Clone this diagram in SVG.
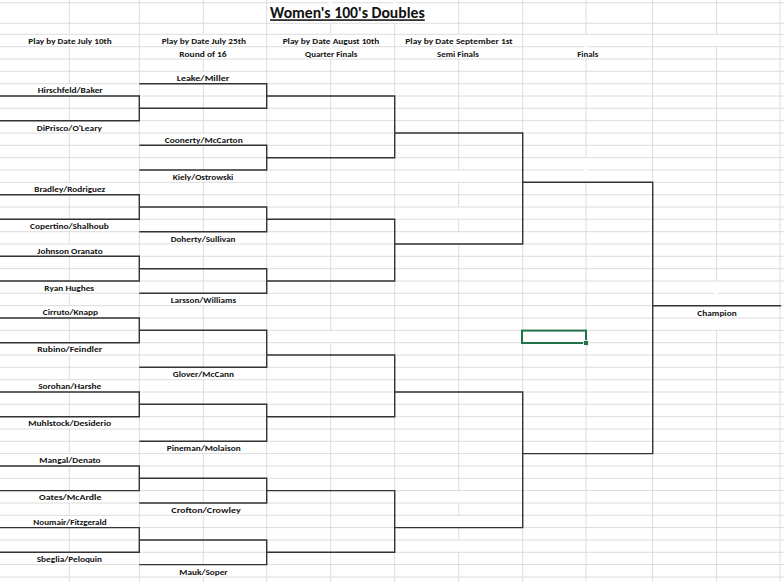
<svg xmlns="http://www.w3.org/2000/svg" width="784" height="582" viewBox="0 0 784 582">
<style>
.bg{fill:#ffffff}
.g{stroke:#dcdcdc;stroke-width:1;fill:none}
.gap{fill:#ffffff}
.b{stroke:#333333;stroke-width:1.4;fill:none}
.t{font-family:Carlito,Lato,"Liberation Sans",sans-serif;font-weight:bold;font-size:8.6px;fill:#111111;text-anchor:middle}
.title{font-family:Carlito,Lato,"Liberation Sans",sans-serif;font-weight:bold;font-size:15.5px;fill:#111111;text-anchor:middle;text-decoration:underline}
.sel{fill:none;stroke:#217346;stroke-width:2}
.hdl{fill:#217346;stroke:#ffffff;stroke-width:0.8}
</style>
<rect class="bg" x="0" y="0" width="784" height="582"/>
<g id="grid">
<path class="g" d="M0 2.7H784M0 23.3H784M0 34.3H784M0 46.7H784M0 59H784M0 71.3H784M0 83.7H784M0 96H784M0 108.3H784M0 120.7H784M0 133H784M0 145.3H784M0 157.7H784M0 170H784M0 182.3H784M0 194.7H784M0 207H784M0 219.3H784M0 231.7H784M0 244H784M0 256.3H784M0 268.7H784M0 281H784M0 293.3H784M0 305.7H784M0 318H784M0 330.3H784M0 342.7H784M0 355H784M0 367.3H784M0 379.7H784M0 392H784M0 404.3H784M0 416.7H784M0 429H784M0 441.3H784M0 453.6H784M0 466H784M0 478.3H784M0 490.6H784M0 503H784M0 515.3H784M0 527.6H784M0 540H784M0 552.3H784M0 564.6H784M0 577H784"/>
<path class="g" d="M69.3 0V582M139.3 0V582M203.3 0V582M266.7 0V582M330.7 0V582M394.7 0V582M458.7 0V582M522.7 0V582M586 0V582M652.7 0V582M716.7 0V582M780 0V582"/>
<g id="gaps">
<rect class="gap" x="67.8" y="35" width="3" height="11"/>
<rect class="gap" x="67.8" y="84.3" width="3" height="11"/>
<rect class="gap" x="67.8" y="121.3" width="3" height="11"/>
<rect class="gap" x="67.8" y="183" width="3" height="11"/>
<rect class="gap" x="67.8" y="220" width="3" height="11"/>
<rect class="gap" x="67.8" y="244.7" width="3" height="11"/>
<rect class="gap" x="67.8" y="281.7" width="3" height="11"/>
<rect class="gap" x="67.8" y="306.3" width="3" height="11"/>
<rect class="gap" x="67.8" y="343.3" width="3" height="11"/>
<rect class="gap" x="67.8" y="380.3" width="3" height="11"/>
<rect class="gap" x="67.8" y="417.3" width="3" height="11"/>
<rect class="gap" x="67.8" y="454.3" width="3" height="11"/>
<rect class="gap" x="67.8" y="491.3" width="3" height="11"/>
<rect class="gap" x="67.8" y="516" width="3" height="11"/>
<rect class="gap" x="67.8" y="553" width="3" height="11"/>
<rect class="gap" x="201.8" y="35" width="3" height="23.4"/>
<rect class="gap" x="201.8" y="72" width="3" height="11"/>
<rect class="gap" x="201.8" y="134" width="3" height="11"/>
<rect class="gap" x="201.8" y="170.6" width="3" height="11"/>
<rect class="gap" x="201.8" y="232.3" width="3" height="11"/>
<rect class="gap" x="201.8" y="294" width="3" height="11"/>
<rect class="gap" x="201.8" y="368" width="3" height="11"/>
<rect class="gap" x="201.8" y="442" width="3" height="11"/>
<rect class="gap" x="201.8" y="503.6" width="3" height="11"/>
<rect class="gap" x="201.8" y="565.3" width="3" height="11"/>
<rect class="gap" x="329.2" y="0" width="3" height="22.7"/>
<rect class="gap" x="393.2" y="0" width="3" height="22.7"/>
<rect class="gap" x="329.2" y="35" width="3" height="23.4"/>
<rect class="gap" x="329.2" y="331" width="3" height="11"/>
<rect class="gap" x="457.2" y="35" width="3" height="23.4"/>
<rect class="gap" x="457.2" y="170.6" width="3" height="11"/>
<rect class="gap" x="457.2" y="207.6" width="3" height="11"/>
<rect class="gap" x="457.2" y="232.3" width="3" height="11"/>
<rect class="gap" x="457.2" y="491.3" width="3" height="11"/>
<rect class="gap" x="457.2" y="516" width="3" height="11"/>
<rect class="gap" x="457.2" y="540.6" width="3" height="11"/>
<rect class="gap" x="584.5" y="35" width="3" height="23.4"/>
<rect class="gap" x="584.5" y="158.3" width="3" height="23.4"/>
<rect class="gap" x="715.2" y="35" width="3" height="11"/>
<rect class="gap" x="715.2" y="281.6" width="3" height="48"/>
</g>
</g>
<g id="connectors">
<path class="b" d="M0 96H139.3V120.7H0M0 194.7H139.3V219.3H0M0 256.3H139.3V281H0M0 318H139.3V342.7H0M0 392H139.3V416.7H0M0 466H139.3V490.6H0M0 527.6H139.3V552.3H0"/>
<path class="b" d="M139.3 83.7H266.7V108.3H139.3M139.3 145.3H266.7V170H139.3M139.3 207H266.7V231.7H139.3M139.3 268.7H266.7V293.3H139.3M139.3 330.3H266.7V367.3H139.3M139.3 404.3H266.7V441.3H139.3M139.3 478.3H266.7V503H139.3M139.3 540H266.7V564.6H139.3"/>
<path class="b" d="M266.7 96H394.7V157.7H266.7M266.7 219.3H394.7V281H266.7M266.7 355H394.7V416.7H266.7M266.7 490.6H394.7V552.3H266.7"/>
<path class="b" d="M394.7 133H522.7V244H394.7M394.7 392H522.7V527.6H394.7"/>
<path class="b" d="M522.7 182.3H652.7V453.6H522.7M652.7 305.7H781"/>
</g>
<g id="headers">
<text class="title" x="347.4" y="18.3" textLength="154.7" lengthAdjust="spacingAndGlyphs">Women's 100's Doubles</text>
<text class="t" x="70" y="44.3" textLength="83.4" lengthAdjust="spacingAndGlyphs">Play by Date July 10th</text>
<text class="t" x="203.8" y="44.3" textLength="84.3" lengthAdjust="spacingAndGlyphs">Play by Date July 25th</text>
<text class="t" x="203" y="56.6" textLength="47.3" lengthAdjust="spacingAndGlyphs">Round of 16</text>
<text class="t" x="331" y="44.3" textLength="96.7" lengthAdjust="spacingAndGlyphs">Play by Date August 10th</text>
<text class="t" x="331.2" y="56.6" textLength="52.3" lengthAdjust="spacingAndGlyphs">Quarter Finals</text>
<text class="t" x="459" y="44.3" textLength="107.3" lengthAdjust="spacingAndGlyphs">Play by Date September 1st</text>
<text class="t" x="457.9" y="56.6" textLength="41.7" lengthAdjust="spacingAndGlyphs">Semi Finals</text>
<text class="t" x="587.8" y="56.6" textLength="21" lengthAdjust="spacingAndGlyphs">Finals</text>
</g>
<g id="round1">
<g id="t-hirschfeld"><text class="t" x="70.2" y="93.4" textLength="65" lengthAdjust="spacingAndGlyphs">Hirschfeld/Baker</text></g>
<g id="t-diprisco"><text class="t" x="69.4" y="130.5" textLength="65.3" lengthAdjust="spacingAndGlyphs">DiPrisco/O'Leary</text></g>
<g id="t-bradley"><text class="t" x="69.8" y="191.9" textLength="71" lengthAdjust="spacingAndGlyphs">Bradley/Rodriguez</text></g>
<g id="t-copertino"><text class="t" x="69.4" y="229" textLength="78.7" lengthAdjust="spacingAndGlyphs">Copertino/Shalhoub</text></g>
<g id="t-johnson"><text class="t" x="70" y="253.6" textLength="65.3" lengthAdjust="spacingAndGlyphs">Johnson Oranato</text></g>
<g id="t-ryan"><text class="t" x="69.2" y="290.6" textLength="49.7" lengthAdjust="spacingAndGlyphs">Ryan Hughes</text></g>
<g id="t-cirruto"><text class="t" x="70.4" y="315.3" textLength="55.3" lengthAdjust="spacingAndGlyphs">Cirruto/Knapp</text></g>
<g id="t-rubino"><text class="t" x="69.7" y="352.3" textLength="65" lengthAdjust="spacingAndGlyphs">Rubino/Feindler</text></g>
<g id="t-sorohan"><text class="t" x="69.7" y="389.3" textLength="63" lengthAdjust="spacingAndGlyphs">Sorohan/Harshe</text></g>
<g id="t-muhlstock"><text class="t" x="69.7" y="426.3" textLength="83" lengthAdjust="spacingAndGlyphs">Muhlstock/Desiderio</text></g>
<g id="t-mangal"><text class="t" x="70" y="463.3" textLength="61.3" lengthAdjust="spacingAndGlyphs">Mangal/Denato</text></g>
<g id="t-oates"><text class="t" x="70.2" y="500.3" textLength="62.3" lengthAdjust="spacingAndGlyphs">Oates/McArdle</text></g>
<g id="t-noumair"><text class="t" x="70" y="525" textLength="73.3" lengthAdjust="spacingAndGlyphs">Noumair/Fitzgerald</text></g>
<g id="t-sbeglia"><text class="t" x="69.4" y="562" textLength="65.3" lengthAdjust="spacingAndGlyphs">Sbeglia/Peloquin</text></g>
</g>
<g id="round2">
<g id="t-leake"><text class="t" x="203" y="81.3" textLength="52.6" lengthAdjust="spacingAndGlyphs">Leake/Miller</text></g>
<g id="t-coonerty"><text class="t" x="203.7" y="142.9" textLength="78" lengthAdjust="spacingAndGlyphs">Coonerty/McCarton</text></g>
<g id="t-kiely"><text class="t" x="203" y="179.9" textLength="60.7" lengthAdjust="spacingAndGlyphs">Kiely/Ostrowski</text></g>
<g id="t-doherty"><text class="t" x="203" y="241.6" textLength="64.7" lengthAdjust="spacingAndGlyphs">Doherty/Sullivan</text></g>
<g id="t-larsson"><text class="t" x="203.4" y="303.3" textLength="65.3" lengthAdjust="spacingAndGlyphs">Larsson/Williams</text></g>
<g id="t-glover"><text class="t" x="203.4" y="377.3" textLength="61.3" lengthAdjust="spacingAndGlyphs">Glover/McCann</text></g>
<g id="t-pineman"><text class="t" x="203.7" y="451.2" textLength="74" lengthAdjust="spacingAndGlyphs">Pineman/Molaison</text></g>
<g id="t-crofton"><text class="t" x="206" y="512.9" textLength="69.3" lengthAdjust="spacingAndGlyphs">Crofton/Crowley</text></g>
<g id="t-mauk"><text class="t" x="203.5" y="574.6" textLength="48.3" lengthAdjust="spacingAndGlyphs">Mauk/Soper</text></g>
</g>
<g id="champion"><text class="t" x="717" y="315.6" textLength="39.3" lengthAdjust="spacingAndGlyphs">Champion</text></g>
<g id="selection">
<rect class="sel" x="522" y="330.6" width="64" height="12.4"/>
<rect class="hdl" x="583.6" y="340.6" width="5" height="5"/>
</g>
</svg>
